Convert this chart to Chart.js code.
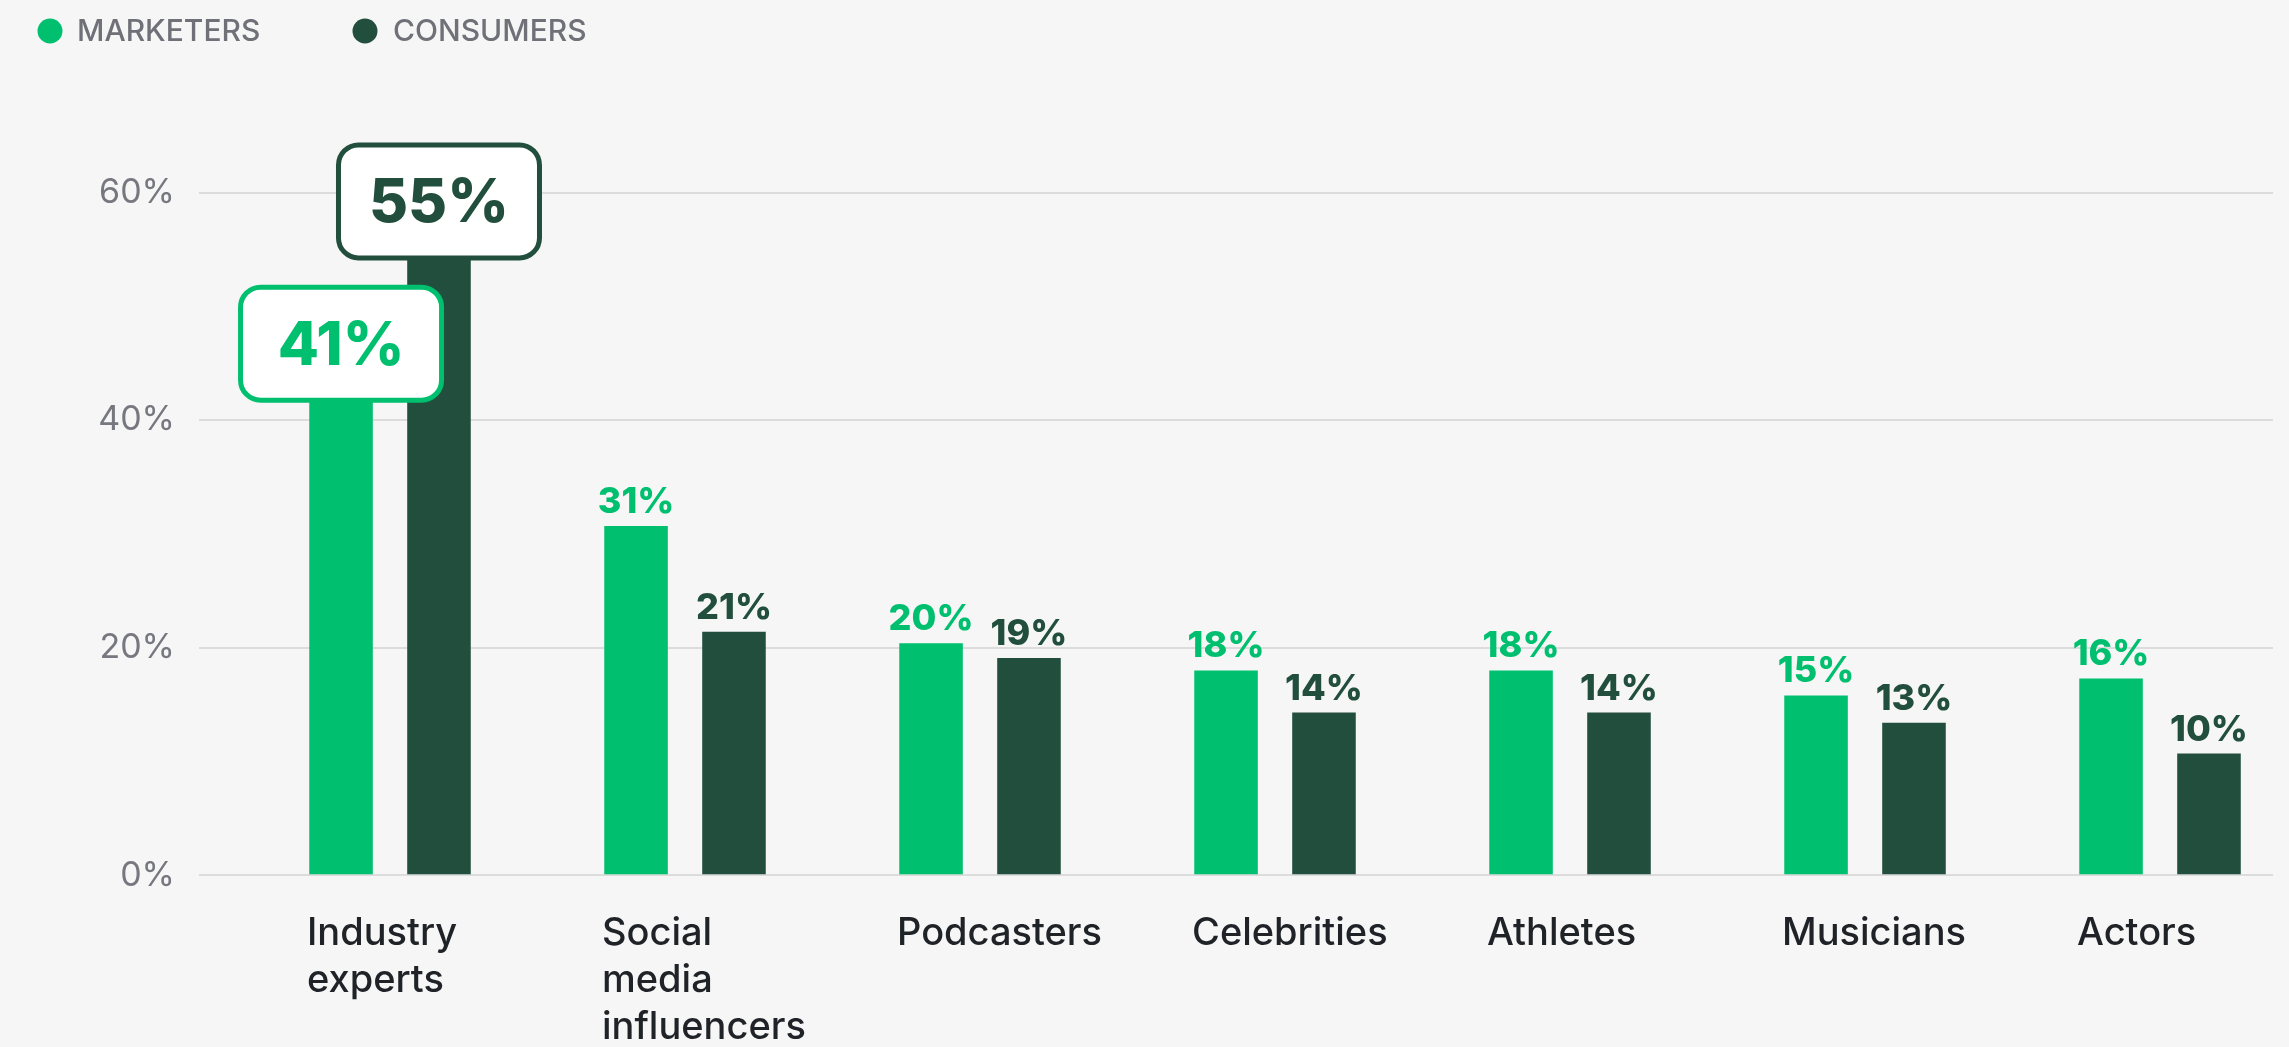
<!DOCTYPE html>
<html>
<head>
<meta charset="utf-8">
<script src="https://cdn.jsdelivr.net/npm/chart.js@4.4.1/dist/chart.umd.min.js"></script>
<style>
  html, body { margin: 0; padding: 0; background: #f6f6f6; overflow: hidden; }
  canvas { display: block; }
</style>
</head>
<body>
<canvas id="myChart" width="2289" height="1047"></canvas>
<script>
const categories = [['Industry', 'experts'], ['Social', 'media', 'influencers'], 'Podcasters', 'Celebrities', 'Athletes', 'Musicians', 'Actors'];
// bar heights as drawn (first marketers bar is hidden under its callout, estimated)
const marketers = [42.5, 30.7, 20.4, 18.0, 18.0, 15.8, 17.3];
const consumers = [55, 21.4, 19.1, 14.3, 14.3, 13.4, 10.7];
// numbers printed above the bars
const marketersShown = [41, 31, 20, 18, 18, 15, 16];
const consumersShown = [55, 21, 19, 14, 14, 13, 10];
const yTicks = [0, 20, 40, 60];

const GREEN = '#00bf6f';
const DARK = '#224f3d';
const FONT = 'Inter, "Noto Sans", sans-serif';

// legend drawn at the top-left, circles + grey caps
const legendPlugin = {
    id: 'topLegend',
    afterDraw(chart) {
        const ctx = chart.ctx;
        const spots = [{cx: 50, tx: 77}, {cx: 365, tx: 393}];
        ctx.save();
        chart.data.datasets.forEach((ds, i) => {
            ctx.fillStyle = ds.backgroundColor;
            ctx.beginPath();
            ctx.arc(spots[i].cx, 31, 12.5, 0, Math.PI * 2);
            ctx.fill();
            ctx.fillStyle = '#6f7078';
            ctx.font = '500 30px ' + FONT;
            ctx.textBaseline = 'middle';
            ctx.textAlign = 'left';
            ctx.fillText(ds.label, spots[i].tx, 32);
        });
        ctx.restore();
    }
};

function roundRect(ctx, x, y, w, h, r) {
    ctx.beginPath();
    ctx.moveTo(x + r, y);
    ctx.arcTo(x + w, y, x + w, y + h, r);
    ctx.arcTo(x + w, y + h, x, y + h, r);
    ctx.arcTo(x, y + h, x, y, r);
    ctx.arcTo(x, y, x + w, y, r);
    ctx.closePath();
}

// value labels above bars, first category gets the boxed callout
const valueLabels = {
    id: 'valueLabels',
    afterDatasetsDraw(chart) {
        const ctx = chart.ctx;
        ctx.save();
        chart.data.datasets.forEach((ds, di) => {
            const meta = chart.getDatasetMeta(di);
            meta.data.forEach((bar, i) => {
                if (i === 0) return;
                ctx.fillStyle = ds.backgroundColor;
                ctx.font = '800 36px ' + FONT;
                ctx.textAlign = 'center';
                ctx.textBaseline = 'alphabetic';
                ctx.fillText(ds.shown[i] + '%', bar.x, bar.y - 13);
            });
        });
        chart.data.datasets.forEach((ds, di) => {
            const bar = chart.getDatasetMeta(di).data[0];
            const w = 201, h = 113;
            const cy = bar.y - 48;
            roundRect(ctx, bar.x - w / 2, cy - h / 2, w, h, 20);
            ctx.fillStyle = '#ffffff';
            ctx.fill();
            ctx.lineWidth = 5;
            ctx.strokeStyle = ds.backgroundColor;
            ctx.stroke();
            ctx.fillStyle = ds.backgroundColor;
            ctx.font = '800 60px ' + FONT;
            ctx.textAlign = 'center';
            ctx.textBaseline = 'middle';
            ctx.fillText(ds.shown[0] + '%', bar.x, cy + 3);
        });
        ctx.restore();
    }
};

function renderChart() {
    const ctx = document.getElementById('myChart');
    return new Chart(ctx, {
        type: 'bar',
        data: {
            datasets: [{
                label: 'MARKETERS',
                data: marketers.map((v, i) => ({x: i, y: v})),
                shown: marketersShown,
                backgroundColor: GREEN,
                borderWidth: 0,
                categoryPercentage: 0.664,
                barPercentage: 0.649
            }, {
                label: 'CONSUMERS',
                data: consumers.map((v, i) => ({x: i, y: v})),
                shown: consumersShown,
                backgroundColor: DARK,
                borderWidth: 0,
                categoryPercentage: 0.664,
                barPercentage: 0.649
            }]
        },
        options: {
            responsive: false,
            animation: false,
            layout: {
                padding: {top: 192.5, right: 16, bottom: 0, left: 0}
            },
            plugins: {
                legend: {display: false},
                tooltip: {enabled: false}
            },
            scales: {
                x: {
                    type: 'linear',
                    bounds: 'data',
                    offset: false,
                    min: -0.6475,
                    max: 6.383,
                    grid: {display: false, offset: false},
                    border: {display: false},
                    afterBuildTicks: (scale) => {
                        scale.ticks = categories.map((c, i) => ({value: i}));
                    },
                    afterFit: (scale) => {
                        scale.height = 171.7;
                        scale.paddingLeft = 0;
                        scale.paddingRight = 0;
                    },
                    ticks: {
                        callback: (value) => categories[value],
                        align: 'start',
                        labelOffset: -83,
                        padding: 27,
                        autoSkip: false,
                        minRotation: 0,
                        maxRotation: 0,
                        color: '#1f2226',
                        font: {family: FONT, size: 38, weight: '500', lineHeight: 1.23}
                    }
                },
                y: {
                    min: 0,
                    max: 60,
                    afterBuildTicks: (scale) => {
                        scale.ticks = yTicks.map(v => ({value: v}));
                    },
                    afterFit: (scale) => {
                        scale.width = 199;
                    },
                    grid: {color: '#dcdcdc', lineWidth: 2, drawTicks: false},
                    border: {display: false},
                    ticks: {
                        callback: (value) => value + '%',
                        padding: 24,
                        color: '#76777f',
                        font: {family: FONT, size: 34, weight: '400'}
                    }
                }
            }
        },
        plugins: [legendPlugin, valueLabels]
    });
}

renderChart();
</script>
</body>
</html>
